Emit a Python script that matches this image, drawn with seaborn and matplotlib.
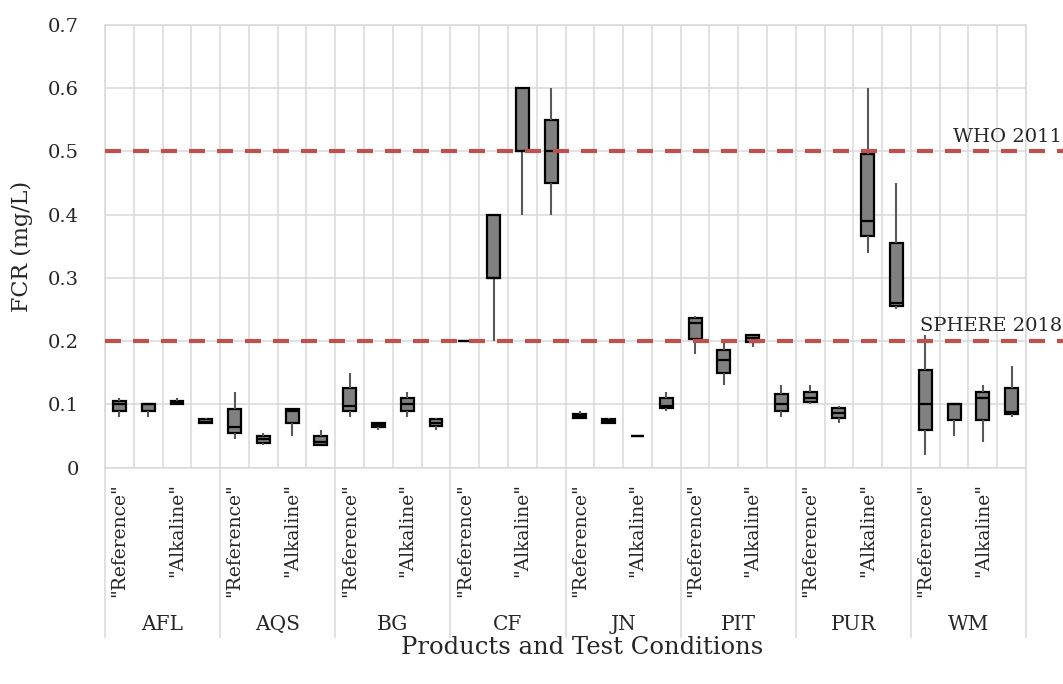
import numpy as np
import pandas as pd
import matplotlib
matplotlib.use("Agg")
import matplotlib.pyplot as plt
import matplotlib.transforms as mtransforms
import seaborn as sns

# ---------------- data ----------------
products = ["AFL", "AQS", "BG", "CF", "JN", "PIT", "PUR", "WM"]
conditions_per_product = 4
shown_condition_labels = {0: '"Reference"', 2: '"Alkaline"'}

mins = [0.080, 0.080, 0.100, 0.070,
        0.045, 0.035, 0.050, 0.035,
        0.080, 0.060, 0.080, 0.060,
        0.200, 0.200, 0.400, 0.400,
        0.079, 0.070, 0.050, 0.090,
        0.180, 0.130, 0.190, 0.080,
        0.100, 0.070, 0.340, 0.250,
        0.020, 0.050, 0.040, 0.080]
q1s = [0.089, 0.089, 0.100, 0.070,
       0.055, 0.039, 0.070, 0.036,
       0.089, 0.064, 0.089, 0.065,
       0.200, 0.300, 0.500, 0.450,
       0.079, 0.070, 0.050, 0.094,
       0.204, 0.150, 0.199, 0.089,
       0.104, 0.079, 0.366, 0.255,
       0.060, 0.075, 0.075, 0.084]
medians = [0.100, 0.100, 0.102, 0.072,
           0.064, 0.045, 0.089, 0.040,
           0.098, 0.067, 0.100, 0.070,
           0.200, 0.300, 0.500, 0.500,
           0.082, 0.073, 0.050, 0.097,
           0.229, 0.170, 0.205, 0.100,
           0.110, 0.087, 0.390, 0.260,
           0.100, 0.100, 0.110, 0.088]
q3s = [0.105, 0.100, 0.105, 0.076,
       0.093, 0.050, 0.093, 0.050,
       0.125, 0.070, 0.110, 0.076,
       0.200, 0.400, 0.600, 0.550,
       0.085, 0.076, 0.050, 0.110,
       0.236, 0.186, 0.210, 0.116,
       0.120, 0.094, 0.496, 0.355,
       0.155, 0.100, 0.120, 0.125]
maxs = [0.110, 0.100, 0.110, 0.079,
        0.120, 0.055, 0.093, 0.059,
        0.150, 0.070, 0.120, 0.079,
        0.200, 0.400, 0.600, 0.600,
        0.089, 0.079, 0.050, 0.120,
        0.240, 0.197, 0.210, 0.130,
        0.130, 0.098, 0.600, 0.450,
        0.210, 0.100, 0.130, 0.160]

guidelines = [0.5, 0.2]
guideline_names = ["WHO 2011", "SPHERE 2018"]
yticks = [0, 0.1, 0.2, 0.3, 0.4, 0.5, 0.6, 0.7]

# ---------------- long-form table ----------------
slots = [f"{p}-{k}" for p in products for k in range(conditions_per_product)]
rows = []
for i, s in enumerate(slots):
    for v in (mins[i], q1s[i], medians[i], q3s[i], maxs[i]):
        rows.append({"slot": s, "FCR": v})
df = pd.DataFrame(rows)

# ---------------- figure ----------------
sns.set_theme(style="white")
plt.rcParams["font.family"] = ["DejaVu Serif"]
plt.rcParams["lines.solid_capstyle"] = "butt"

fig = plt.figure(figsize=(10.63, 6.84), dpi=100)
ax = fig.add_axes([0.0988, 0.3165, 0.8664, 0.6471])

grid_c = "#d9d9d9"
sns.boxplot(data=df, x="slot", y="FCR", order=slots, ax=ax,
            color="#808080", saturation=1, linecolor="black", linewidth=1.6,
            width=0.45, whis=(0, 100), showcaps=False, showfliers=False,
            whiskerprops=dict(color="#595959", linewidth=1.5),
            medianprops=dict(color="black", linewidth=1.6))

ax.set_xlim(-0.5, len(slots) - 0.5)
ax.set_ylim(0, 0.7)
ax.set_yticks(yticks)
ax.set_yticklabels(["0" if t == 0 else f"{t:.1f}" for t in yticks], fontsize=14)

pos, labs = [], []
for g in range(len(products)):
    for k, lab in shown_condition_labels.items():
        pos.append(g * conditions_per_product + k)
        labs.append(lab)
ax.set_xticks(pos)
ax.set_xticklabels(labs, rotation=90, fontsize=13.5, va="top", ha="center")
ax.set_xticks(np.arange(-0.5, len(slots), 1), minor=True)

ax.tick_params(axis="y", length=0, pad=19)
ax.tick_params(axis="x", which="both", length=0, pad=11)
ax.set_axisbelow(True)
ax.grid(False)
ax.yaxis.grid(True, color=grid_c, linewidth=1.1)
ax.xaxis.grid(True, which="minor", color=grid_c, linewidth=1.1)
for sp in ax.spines.values():
    sp.set_color(grid_c)
    sp.set_linewidth(1.1)
ax.set_xlabel("")
ax.set_ylabel("")

# guideline dashed lines extending past the plot area
trans_ax_data = mtransforms.blended_transform_factory(ax.transAxes, ax.transData)
trans_fig_data = mtransforms.blended_transform_factory(fig.transFigure, ax.transData)
for yv, name in zip(guidelines, guideline_names):
    ax.plot([0, 1.045], [yv, yv], transform=trans_ax_data, color="#c0504d",
            linewidth=3, dashes=(3.84, 2.88), clip_on=False, zorder=6)
    ax.annotate(name, xy=(0.999, yv), xycoords=trans_fig_data,
                xytext=(0, 7), textcoords="offset points",
                ha="right", va="baseline", fontsize=14, annotation_clip=False)

# product group separators and labels beneath the axis
trans_data_fig = mtransforms.blended_transform_factory(ax.transData, fig.transFigure)
y_axis_fig = 0.3165
for g in range(len(products) + 1):
    xb = g * conditions_per_product - 0.5
    ax.plot([xb, xb], [y_axis_fig, 0.067], transform=trans_data_fig,
            color=grid_c, linewidth=1.1, clip_on=False)
for g, p in enumerate(products):
    ax.text(g * conditions_per_product + 1.5, 0.0877, p, transform=trans_data_fig,
            ha="center", va="center", fontsize=14.5)

fig.text(22 / 1063, 1 - 246 / 684, "FCR (mg/L)", rotation=90,
         ha="center", va="center", fontsize=16)
fig.text(582 / 1063, 1 - 648 / 684, "Products and Test Conditions",
         ha="center", va="center", fontsize=17.5)

fig.savefig("out.png", dpi=100)
